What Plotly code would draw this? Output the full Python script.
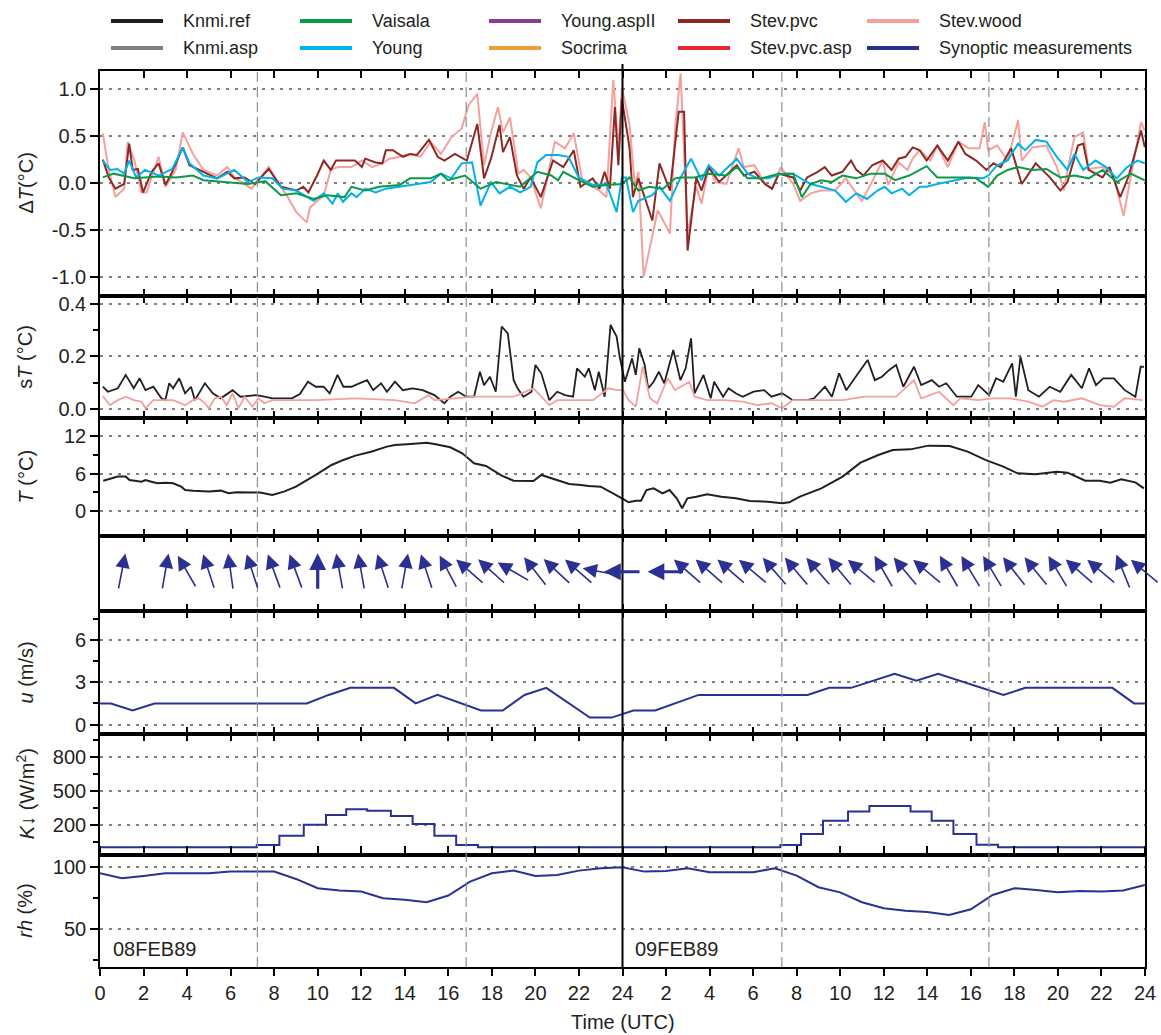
import math
import plotly.graph_objects as go
from plotly.subplots import make_subplots

# ---------------- data ----------------
# Delta T (deg C) relative to Knmi.ref
VAISALA_H = [0.13,0.63,1.58,2.69,3.48,4.27,4.75,5.85,6.80,7.59,8.31,9.02,9.81,10.44,11.23,11.55,12.18,12.82,13.77,14.24,15.19,15.66,15.98,16.77,17.48,18.20,19.30,20.09,20.73,21.04,21.28,21.99,22.63,23.26,23.97,
             24.32,24.73,25.21,25.86,26.42,26.67,27.31,27.96,28.77,29.25,29.74,30.38,31.19,31.84,32.24,32.64,33.13,33.61,34.10,34.74,35.39,36.04,36.52,37.17,37.97,38.46,39.10,39.75,40.24,40.80,41.21,41.69,42.17,42.82,43.47,44.11,44.76,45.41,46.05,46.70,47.34,47.99]
VAISALA_V = [0.06,0.10,0.05,0.07,0.06,0.08,0.03,0.01,-0.01,0.02,-0.13,-0.11,-0.17,-0.13,-0.15,-0.04,-0.08,-0.04,-0.02,0.05,0.05,0.10,0.03,0.08,-0.06,0.01,-0.04,0.12,0.08,0.03,0.12,0.03,-0.04,-0.02,-0.01,
             0.06,-0.08,-0.04,-0.06,0.05,0.06,0.06,0.10,0.08,0.17,0.05,0.05,0.10,0.10,-0.15,-0.01,0.03,0.01,0.08,0.05,0.10,0.10,0.03,0.08,0.18,0.06,0.06,0.06,0.05,-0.04,0.08,0.14,0.17,0.14,0.15,0.06,0.08,0.05,0.14,0.01,0.10,0.03]

YOUNG_H = [0.13,0.47,0.79,1.11,1.34,1.66,2.06,2.69,3.32,3.80,4.11,4.75,5.38,6.17,6.80,7.28,7.91,8.39,9.02,9.81,10.28,10.68,10.92,11.16,11.55,11.79,12.18,12.66,13.13,13.77,14.40,15.19,15.66,16.14,16.61,17.09,17.48,17.96,18.35,18.83,19.30,19.78,20.09,20.49,21.04,21.52,21.99,22.63,23.26,23.73,23.97,
           24.16,24.48,24.73,25.37,25.70,26.18,26.67,27.15,27.63,27.96,28.44,29.25,29.74,30.22,30.70,31.35,31.84,32.32,32.64,33.13,33.77,34.26,34.74,35.23,35.71,36.04,36.36,36.84,37.17,37.65,37.97,38.46,39.27,39.91,40.56,40.80,41.21,41.69,42.17,42.50,42.98,43.47,43.95,44.44,44.76,45.16,45.73,46.21,46.70,47.18,47.66,47.99]
YOUNG_V = [0.24,0.14,0.15,0.10,0.24,0.06,0.14,0.08,0.15,0.38,0.21,0.08,0.05,0.14,0.01,0.06,0.05,-0.06,-0.08,-0.19,-0.11,-0.22,-0.11,-0.20,-0.11,-0.15,-0.06,-0.10,-0.06,-0.04,-0.02,0.01,0.10,0.05,0.21,0.22,-0.24,0.01,-0.11,-0.04,-0.10,-0.04,0.22,0.30,0.30,0.28,0.06,-0.02,-0.01,-0.31,0.06,
           0.06,-0.31,-0.19,-0.13,-0.04,-0.19,0.06,0.26,0.03,0.19,0.08,0.26,0.10,0.05,0.05,0.10,0.10,0.03,-0.01,-0.04,-0.08,-0.20,-0.11,-0.17,-0.08,-0.04,-0.11,-0.06,-0.13,-0.04,-0.04,-0.01,0.03,0.06,0.05,0.08,0.19,0.24,0.42,0.35,0.46,0.44,0.28,0.14,0.31,0.14,0.24,0.17,0.05,0.17,0.24,0.21]

STEVPVC_H = [0.13,0.40,0.71,1.11,1.34,1.50,1.74,1.98,2.37,2.69,3.01,3.32,3.80,4.11,4.75,5.38,5.85,6.17,6.65,7.12,7.75,8.31,9.02,9.34,9.57,9.97,10.28,10.60,10.84,11.23,11.71,12.03,12.18,12.66,12.97,13.13,13.45,13.92,14.24,14.56,15.11,15.51,15.82,16.30,16.85,17.33,17.64,17.96,18.35,18.51,18.83,19.15,19.46,19.78,20.25,20.81,21.28,21.76,22.07,22.63,22.94,23.18,23.42,23.65,23.81,23.97,
             24.32,24.48,24.73,25.37,25.70,26.18,26.58,26.83,26.99,27.39,27.63,27.96,28.44,29.25,29.57,30.06,30.54,30.87,31.19,31.84,32.16,32.48,32.97,33.29,33.61,34.10,34.50,34.74,35.07,35.47,35.95,36.36,36.68,37.00,37.33,37.65,37.97,38.46,38.94,39.43,39.75,40.24,40.72,41.04,41.37,41.85,42.34,42.98,43.63,44.11,44.44,44.92,45.16,45.41,46.05,46.37,46.86,47.26,47.82,47.99]
STEVPVC_V = [0.25,0.06,-0.06,-0.01,0.42,0.14,0.15,-0.10,0.12,0.21,-0.02,0.12,0.38,0.19,0.12,0.05,0.12,0.05,0.06,-0.01,0.15,-0.04,-0.08,-0.04,-0.10,0.08,0.24,0.14,0.24,0.24,0.24,0.17,0.26,0.22,0.21,0.35,0.35,0.28,0.31,0.30,0.46,0.28,0.24,0.31,0.24,0.63,0.05,0.26,0.62,0.33,0.49,0.08,-0.06,0.06,-0.15,0.24,0.17,0.35,-0.04,0.05,-0.06,0.12,-0.06,0.81,0.19,0.90,
             0.38,-0.15,0.05,-0.40,0.21,-0.08,0.76,0.76,-0.72,0.06,-0.08,0.17,0.01,0.19,0.08,0.12,-0.01,-0.06,0.10,0.06,-0.08,0.06,0.12,0.17,0.08,0.12,0.24,0.14,0.08,0.19,0.24,0.14,0.26,0.28,0.38,0.35,0.24,0.40,0.24,0.44,0.31,0.24,0.14,0.21,0.17,0.37,-0.01,0.21,0.06,-0.08,0.01,0.40,0.42,0.14,0.06,0.17,-0.15,0.08,0.56,0.38]

STEVWOOD_H = [0.13,0.40,0.71,1.11,1.27,1.58,1.90,2.14,2.69,3.01,3.48,3.80,4.27,4.75,5.38,5.85,6.17,6.96,7.44,7.75,8.23,8.62,9.02,9.49,9.65,10.28,10.60,10.92,11.55,12.03,12.50,12.97,13.29,13.77,14.24,14.72,15.19,15.66,16.14,16.61,16.93,17.33,17.64,17.96,18.28,18.51,18.83,19.22,19.46,19.78,20.25,20.89,21.36,21.76,22.15,22.63,22.94,23.26,23.58,23.81,23.97,
              24.32,24.57,24.73,24.97,25.62,26.18,26.42,26.67,26.99,27.39,27.63,27.96,28.28,28.77,29.33,29.57,30.06,30.54,30.87,31.27,31.84,32.16,32.64,33.13,33.77,34.26,34.74,34.99,35.39,35.95,36.20,36.68,37.09,37.33,37.65,38.14,38.46,38.94,39.43,39.91,40.40,40.64,40.80,41.21,41.69,42.17,42.34,42.82,43.47,43.95,44.27,44.44,44.76,45.16,45.41,46.05,46.54,47.02,47.34,47.82,47.99]
STEVWOOD_V = [0.53,0.14,-0.15,-0.06,0.44,0.24,-0.10,-0.10,0.28,-0.04,0.14,0.54,0.31,0.14,0.08,0.17,0.06,-0.06,0.08,0.17,-0.01,-0.15,-0.31,-0.42,-0.26,-0.13,0.14,0.17,0.17,0.24,0.17,0.21,0.26,0.28,0.31,0.28,0.44,0.31,0.49,0.58,0.83,0.95,0.19,0.54,0.81,0.54,0.70,0.10,0.14,0.06,-0.27,0.44,0.37,0.53,0.03,-0.04,-0.08,-0.15,1.10,0.35,1.02,
              0.63,-0.04,0.12,-1.00,-0.29,-0.54,0.60,1.17,-0.54,-0.04,-0.22,0.17,0.01,-0.01,0.37,0.17,0.19,-0.01,-0.06,0.17,-0.01,-0.19,-0.11,-0.08,-0.08,0.05,-0.11,-0.19,-0.02,0.24,-0.02,0.22,0.14,0.26,0.35,0.24,0.40,0.17,0.44,0.37,0.37,0.65,0.35,0.40,0.24,0.67,0.24,0.38,0.40,0.17,-0.08,0.14,0.49,0.54,0.15,0.17,0.08,-0.35,0.06,0.65,0.56]

# sT (deg C): standard deviation
ST_REF_H = [0.13,0.36,0.82,1.18,1.55,1.82,2.09,2.45,2.82,3.00,3.18,3.36,3.64,3.91,4.18,4.36,4.82,5.18,5.55,6.09,6.45,7.18,7.55,7.91,8.27,8.82,9.18,9.55,9.91,10.27,10.55,10.91,11.18,11.55,11.91,12.27,12.55,12.91,13.18,13.55,13.91,14.36,14.82,15.36,15.82,16.09,16.45,16.82,17.18,17.45,17.64,17.91,18.18,18.45,18.73,19.00,19.18,19.45,19.82,20.00,20.27,20.64,21.00,21.36,21.73,21.91,22.27,22.45,22.73,22.91,23.18,23.45,23.73,
            23.87,24.11,24.44,24.61,24.77,25.02,25.18,25.43,25.67,25.92,26.33,26.66,26.90,27.15,27.31,27.72,28.05,28.21,28.62,28.87,29.20,29.52,30.02,30.51,30.84,31.33,31.82,32.48,32.80,33.30,33.62,33.95,34.28,34.77,35.26,35.59,35.92,36.25,36.57,36.90,37.39,37.72,38.21,38.54,38.87,39.36,40.02,40.34,40.84,41.16,41.49,41.90,42.07,42.28,42.64,43.13,43.62,44.11,44.61,45.10,45.43,45.75,46.08,46.57,47.07,47.56,47.80,47.95]
ST_REF_V = [0.085,0.066,0.079,0.130,0.079,0.117,0.072,0.085,0.041,0.034,0.098,0.079,0.117,0.060,0.085,0.034,0.098,0.060,0.041,0.072,0.047,0.053,0.047,0.041,0.041,0.041,0.057,0.104,0.085,0.085,0.060,0.130,0.085,0.085,0.098,0.110,0.072,0.098,0.066,0.104,0.072,0.079,0.072,0.053,0.022,0.047,0.066,0.047,0.047,0.142,0.091,0.123,0.066,0.314,0.288,0.110,0.079,0.047,0.066,0.168,0.136,0.034,0.066,0.053,0.047,0.155,0.123,0.155,0.072,0.142,0.047,0.320,0.276,
            0.199,0.104,0.193,0.130,0.231,0.168,0.079,0.104,0.142,0.098,0.225,0.110,0.155,0.269,0.060,0.130,0.041,0.104,0.047,0.079,0.060,0.047,0.066,0.072,0.047,0.060,0.034,0.034,0.041,0.085,0.047,0.136,0.072,0.130,0.187,0.110,0.123,0.149,0.168,0.085,0.161,0.091,0.110,0.085,0.098,0.047,0.047,0.091,0.053,0.117,0.104,0.174,0.047,0.199,0.072,0.047,0.085,0.066,0.130,0.079,0.155,0.091,0.117,0.117,0.072,0.047,0.161,0.161]

ST_WOOD_H = [0.13,0.45,0.82,1.18,1.55,1.91,2.09,2.45,2.82,3.36,3.91,4.27,4.55,4.82,5.00,5.27,5.55,5.82,6.09,6.36,6.64,7.00,7.27,7.55,7.91,8.64,9.91,11.73,13.55,14.45,15.09,15.36,17.18,18.09,19.00,19.91,20.64,21.00,21.73,22.64,23.36,23.73,
             24.03,24.28,24.61,24.93,25.26,25.59,26.08,26.41,27.07,27.31,27.89,28.70,29.52,30.18,30.84,31.33,31.82,32.80,34.11,35.10,35.92,36.57,37.39,37.72,38.54,39.20,39.52,40.34,41.00,41.82,42.64,43.30,43.79,44.28,45.10,45.92,46.57,47.07,47.89]
ST_WOOD_V = [0.050,0.015,0.034,0.047,0.034,0.028,0.003,0.034,0.034,0.034,0.015,0.034,0.041,0.022,0.003,0.041,0.047,0.015,0.060,0.003,0.047,0.009,0.041,0.022,0.034,0.034,0.034,0.041,0.034,0.022,0.053,0.034,0.047,0.047,0.047,0.079,0.015,0.034,0.034,0.034,0.079,0.072,
             0.072,0.034,0.009,0.161,0.041,0.022,0.117,0.072,0.104,0.047,0.034,0.034,0.028,0.015,0.022,0.003,0.034,0.034,0.034,0.047,0.047,0.047,0.110,0.041,0.066,0.015,0.041,0.034,0.041,0.041,0.028,0.009,0.034,0.028,0.041,0.015,0.009,0.041,0.034]

# T (deg C), Knmi.ref
T_H = [0.15,0.82,1.18,1.36,1.91,2.09,2.36,2.64,3.00,3.36,3.73,3.91,4.27,5.00,5.55,5.91,6.27,7.00,7.36,7.91,8.45,9.00,9.55,9.91,10.64,11.18,11.73,12.45,13.18,13.55,14.27,15.00,15.36,16.09,16.64,17.18,17.73,18.45,19.00,19.36,19.91,20.27,20.82,21.55,22.09,22.45,23.00,23.45,23.80,
       24.00,24.28,24.61,24.85,25.10,25.43,25.84,26.16,26.49,26.74,26.98,27.39,27.89,28.54,29.20,29.85,30.67,31.33,31.66,32.15,33.13,34.11,34.93,35.75,36.41,37.23,38.05,39.03,39.85,40.67,41.49,42.15,42.97,43.95,44.44,45.26,45.92,46.41,46.90,47.56,47.95]
T_V = [4.87,5.52,5.52,4.98,4.71,4.98,4.71,4.45,4.55,4.45,3.91,3.38,3.27,3.11,3.27,2.84,3.00,3.00,2.95,2.57,3.11,3.91,4.98,5.79,7.39,8.20,8.89,9.53,10.34,10.60,10.77,10.98,10.77,10.23,9.27,7.66,7.23,5.68,4.87,4.87,4.82,5.79,5.14,4.34,4.18,4.02,3.91,3.10,2.40,
       2.00,1.40,1.66,1.66,3.37,3.64,2.84,3.37,2.04,0.43,2.04,2.30,2.68,2.30,2.04,1.60,1.50,1.23,1.40,2.30,3.64,5.52,7.77,9.00,9.80,9.90,10.50,10.45,9.53,8.20,7.12,6.05,5.90,6.32,6.16,4.87,4.87,4.55,5.09,4.60,3.64]

# Synoptic wind: hour, direction the wind blows from (deg)
WIND_H = [1,3,4,5,6,7,8,9,10,11,12,13,14,15,16,17,18,19,20,21,22,23,24,26,
          27,28,29,30,31,32,33,34,35,36,37,38,39,40,41,42,43,44,45,46,47,48]
WIND_DIR = [191,190,150,162,172,162,160,160,180,170,170,162,190,162,152,131,132,120,142,133,131,101,90,90,
            131,131,131,130,139,140,139,140,130,150,140,130,150,149,149,142,141,149,131,130,158,130]
WIND_BOLD_H = [10, 24, 26]

# Synoptic wind speed u (m/s)
U_H = [0,0.5,1.5,2.5,9.5,10.5,11.5,13.5,14.5,15.5,17.5,18.5,19.5,20.5,22.5,23.5,24.5,25.5,27.5,32.5,33.5,34.5,36.5,37.5,38.5,40.5,41.5,42.5,46.5,47.5,48]
U_V = [1.5,1.5,1.0,1.5,1.5,2.1,2.6,2.6,1.5,2.1,1.0,1.0,2.1,2.6,0.5,0.5,1.0,1.0,2.1,2.1,2.6,2.6,3.6,3.1,3.6,2.6,2.1,2.6,2.6,1.5,1.5]

# Global radiation K (W/m2), hourly steps
K_H = [0,7.2,8.24,9.36,10.38,11.31,12.27,13.36,14.36,15.36,16.36,17.36,31.25,32.2,33.21,34.36,35.34,37.23,38.2,39.2,40.26,41.25,48]
K_V = [0,20,102,200,286,337,324,277,206,102,20,0,20,117,235,318,366,318,235,117,22,0,0]

# Relative humidity (%)
RH_H = list(range(0, 49))
RH_V = [95.2,91.1,93.0,95.2,95.2,95.2,96.5,96.5,96.5,90.6,83.1,81.2,80.4,75.0,73.9,71.8,77.2,88.4,95.2,97.3,93.0,93.8,97.3,99.2,
        100.0,96.5,97.0,99.2,96.0,96.0,96.0,99.2,93.3,83.9,79.8,71.8,66.9,65.0,64.0,61.6,66.1,77.7,83.1,81.7,79.8,80.9,80.4,81.2,85.8]

SUN_TIMES = [7.23, 16.82, 31.32, 40.83]
DAY_BREAK = 24
DATE_LABELS = ["08FEB89", "09FEB89"]
DATE_X = [0.5, 24.5]

XTICK_VALS = list(range(0, 49, 2))
XTICK_TEXT = [str(v if v <= 24 else v - 24) for v in XTICK_VALS]

LEG_LABELS = [["Knmi.ref", "Vaisala", "Young.aspII", "Stev.pvc", "Stev.wood"],
              ["Knmi.asp", "Young", "Socrima", "Stev.pvc.asp", "Synoptic measurements"]]

# ---------------- styles ----------------
C = {
    "Knmi.ref": "#231f20", "Knmi.asp": "#7b807c", "Vaisala": "#0a9a48", "Young": "#00b2ea",
    "Young.aspII": "#8c3a97", "Socrima": "#f29a3c", "Stev.pvc": "#8b2a25", "Stev.pvc.asp": "#e5282e",
    "Stev.wood": "#f4a19d", "Synoptic measurements": "#2b3192",
}
FONT = "Liberation Sans, Arial, sans-serif"
TXT = "#231f20"
GRIDC = "#808080"
AXW = 1.6

W, H = 1161, 1035
ML, MR, MT, MB = 100, 16, 71, 68
PW, PH = W - ML - MR, H - MT - MB
ROW_PX = [225, 121.5, 118, 75.5, 123, 120.5, 112.5]

fig = make_subplots(rows=7, cols=1, vertical_spacing=0, row_heights=ROW_PX)

def line(x, y, color, width=2.0, shape="linear"):
    return go.Scatter(x=x, y=y, mode="lines", line=dict(color=color, width=width, shape=shape),
                      showlegend=False, hoverinfo="skip")

fig.add_trace(line(STEVWOOD_H, STEVWOOD_V, C["Stev.wood"], 2.0), row=1, col=1)
fig.add_trace(line(STEVPVC_H, STEVPVC_V, C["Stev.pvc"], 2.0), row=1, col=1)
fig.add_trace(line(YOUNG_H, YOUNG_V, C["Young"], 2.0), row=1, col=1)
fig.add_trace(line(VAISALA_H, VAISALA_V, C["Vaisala"], 2.0), row=1, col=1)

fig.add_trace(line(ST_REF_H, ST_REF_V, C["Knmi.ref"], 1.8), row=2, col=1)
fig.add_trace(line(ST_WOOD_H, ST_WOOD_V, C["Stev.wood"], 1.8), row=2, col=1)

fig.add_trace(line(T_H, T_V, C["Knmi.ref"], 2.0), row=3, col=1)

# invisible trace to establish row-4 axes
fig.add_trace(go.Scatter(x=WIND_H, y=[0.5] * len(WIND_H), mode="markers", marker=dict(opacity=0),
                         showlegend=False, hoverinfo="skip"), row=4, col=1)

fig.add_trace(line(U_H, U_V, C["Synoptic measurements"], 2.0), row=5, col=1)
fig.add_trace(line(K_H, K_V, C["Synoptic measurements"], 2.0, shape="hv"), row=6, col=1)
fig.add_trace(line(RH_H, RH_V, C["Synoptic measurements"], 2.0), row=7, col=1)

# ---------------- axes ----------------
for r in range(1, 8):
    last = r == 7
    fig.update_xaxes(row=r, col=1, range=[0, 48], tickvals=XTICK_VALS, ticktext=XTICK_TEXT,
                     showticklabels=last, ticks="outside" if last else "inside", ticklen=7,
                     tickwidth=1.5, tickcolor="black", mirror="allticks", showline=True,
                     linewidth=AXW, linecolor="black", showgrid=False, zeroline=False, automargin=False,
                     tickfont=dict(family=FONT, size=20, color=TXT))

ycommon = dict(showline=True, linewidth=AXW, linecolor="black", mirror=True, ticks="outside",
               ticklen=8, tickwidth=1.5, tickcolor="black", zeroline=False, showgrid=True,
               gridcolor=GRIDC, gridwidth=1.5, griddash="3px,6px", automargin=False,
               tickfont=dict(family=FONT, size=20, color=TXT))

DT_TICKS = [-1.0, -0.5, 0.0, 0.5, 1.0]
fig.update_yaxes(row=1, col=1, range=[-1.205, 1.195], tickvals=DT_TICKS,
                 ticktext=[f"{v:.1f}" for v in DT_TICKS], **ycommon)
ST_TICKS = [0.0, 0.2, 0.4]
fig.update_yaxes(row=2, col=1, range=[-0.032, 0.43], tickvals=ST_TICKS,
                 ticktext=[f"{v:.1f}" for v in ST_TICKS],
                 minor=dict(ticks="outside", ticklen=5, tickvals=[0.1, 0.3], showgrid=False), **ycommon)
fig.update_yaxes(row=3, col=1, range=[-3.94, 15.02], tickvals=[0, 6, 12],
                 minor=dict(ticks="outside", ticklen=5, tickvals=[3, 9], showgrid=False), **ycommon)
fig.update_yaxes(row=4, col=1, range=[0, 1], showline=True, linewidth=AXW, linecolor="black",
                 mirror=True, ticks="", showticklabels=False, showgrid=False, zeroline=False,
                 automargin=False)
fig.update_yaxes(row=5, col=1, range=[-0.66, 8.03], tickvals=[0, 3, 6],
                 minor=dict(ticks="outside", ticklen=5, tickvals=[1.5, 4.5, 7.5], showgrid=False), **ycommon)
fig.update_yaxes(row=6, col=1, range=[-65, 1007], tickvals=[200, 500, 800],
                 minor=dict(ticks="outside", ticklen=5, tickvals=[50, 350, 650, 950], showgrid=False), **ycommon)
fig.update_yaxes(row=7, col=1, range=[19.6, 110.3], tickvals=[50, 100],
                 minor=dict(ticks="outside", ticklen=5, tickvals=[25, 75], showgrid=False), **ycommon)

# ---------------- wind arrows ----------------
PPH = PW / 48.0
ARROW_PX = 37.0
ROW4_PX = ROW_PX[3]
annotations = []
for h, d in zip(WIND_H, WIND_DIR):
    pt = math.radians(d + 180)
    dx = ARROW_PX * math.sin(pt)
    dy = ARROW_PX * math.cos(pt)
    bold = h in WIND_BOLD_H
    annotations.append(dict(
        x=h + dx / 2 / PPH, y=0.52 + dy / 2 / ROW4_PX, xref="x4", yref="y4",
        ax=-dx, ay=dy, axref="pixel", ayref="pixel", text="", showarrow=True,
        arrowhead=2, arrowsize=1.05 if bold else 1.8,
        arrowwidth=3.2 if bold else 1.6,
        arrowcolor=C["Synoptic measurements"], standoff=0))

# ---------------- y titles ----------------
Y_TITLES = ["Δ<i>T</i>(°C)", "s<i>T</i> (°C)", "<i>T</i> (°C)", "", "<i>u</i> (m/s)",
            "<i>K</i>↓ (W/m<sup>2</sup>)", "<i>rh</i> (%)"]
top = MT
for title, hpx in zip(Y_TITLES, ROW_PX):
    mid = top + hpx / 2
    top += hpx
    if title:
        annotations.append(dict(x=(25 - ML) / PW, y=(MT + PH - mid) / PH, xref="paper", yref="paper",
                                text=title, textangle=-90, showarrow=False, xanchor="center",
                                yanchor="middle", font=dict(family=FONT, size=20, color=TXT)))

# date labels
for lab, xh in zip(DATE_LABELS, DATE_X):
    annotations.append(dict(x=xh, y=34, xref="x7", yref="y7", text=lab, showarrow=False,
                            xanchor="left", yanchor="middle", font=dict(family=FONT, size=20, color=TXT)))

# x title
annotations.append(dict(x=0.5, y=(MT + PH - 1022) / PH, xref="paper", yref="paper", text="Time (UTC)",
                        showarrow=False, xanchor="center", yanchor="middle",
                        font=dict(family=FONT, size=20, color=TXT)))

# ---------------- legend (drawn) ----------------
shapes = []
LEG_X0, LEG_DX, LEG_LEN, LEG_GAP = 111, 189, 52, 18
LEG_ROWS_Y = [21, 48]
for ri, row in enumerate(LEG_LABELS):
    for ci, lab in enumerate(row):
        x0 = LEG_X0 + ci * LEG_DX
        yp = (MT + PH - LEG_ROWS_Y[ri]) / PH
        shapes.append(dict(type="line", xref="paper", yref="paper", x0=(x0 - ML) / PW,
                           x1=(x0 + LEG_LEN - ML) / PW, y0=yp, y1=yp,
                           line=dict(color=C[lab], width=4)))
        annotations.append(dict(x=(x0 + LEG_LEN + LEG_GAP - ML) / PW, y=yp, xref="paper", yref="paper",
                                text=lab, showarrow=False, xanchor="left", yanchor="middle",
                                font=dict(family=FONT, size=18, color=TXT)))

# ---------------- reference lines ----------------
for t in SUN_TIMES:
    shapes.append(dict(type="line", xref="x", yref="paper", x0=t, x1=t, y0=0, y1=1,
                       line=dict(color="#8a9096", width=1.2, dash="10px,5px"), layer="above"))
shapes.append(dict(type="line", xref="x", yref="paper", x0=DAY_BREAK, x1=DAY_BREAK, y0=0, y1=1 + 7 / PH,
                   line=dict(color="black", width=2), layer="above"))

fig.update_layout(width=W, height=H, margin=dict(l=ML, r=MR, t=MT, b=MB, autoexpand=False),
                  paper_bgcolor="white", plot_bgcolor="white", showlegend=False,
                  annotations=annotations, shapes=shapes, font=dict(family=FONT, color=TXT))

fig.write_html("out.html", config={"displayModeBar": False},
               post_script="document.body.style.margin='0';document.body.style.overflow='hidden';")
